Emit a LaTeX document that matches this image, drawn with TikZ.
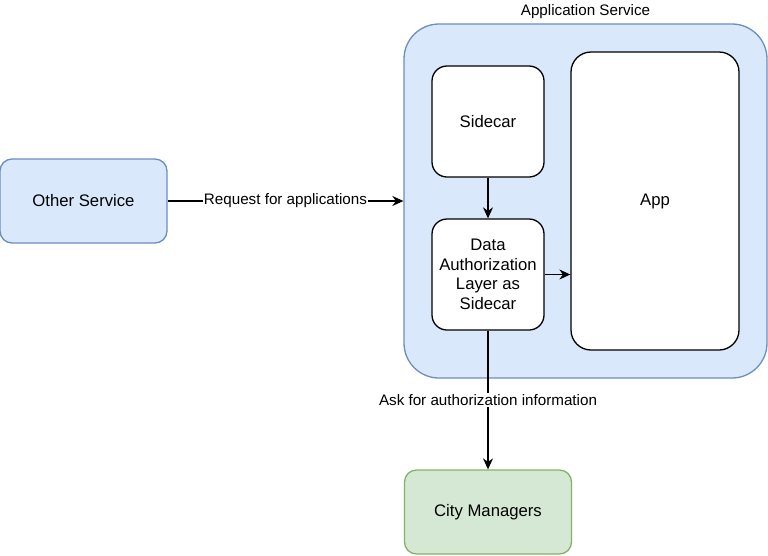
\documentclass[tikz,border=0pt]{standalone}
\usepackage{fontspec}
\setmainfont{Liberation Sans}
\usetikzlibrary{arrows.meta, positioning}

\definecolor{bluefill}{HTML}{DAE8FC}
\definecolor{blueline}{HTML}{6C8EBF}
\definecolor{greenfill}{HTML}{D5E8D4}
\definecolor{greenline}{HTML}{82B366}

\begin{document}
\begin{tikzpicture}[
    x=1pt, y=-1pt,
    every node/.style={align=center, inner sep=0pt, font=\fontsize{16.7}{19.5}\selectfont},
    box/.style={draw, line width=1.3pt, fill=white, rounded corners=15pt},
    bluebox/.style={box, draw=blueline, fill=bluefill, rounded corners=12pt},
    greenbox/.style={box, draw=greenline, fill=greenfill, rounded corners=12pt},
    lbl/.style={fill=white, inner sep=1pt, font=\fontsize{15.2}{18}\selectfont},
    arrow/.style={-{Stealth[length=11pt, width=10pt]}, line width=1.3pt}
]
\useasboundingbox (0,0) rectangle (768,555);

% Nodes
\node (other) [bluebox, minimum width=167pt, minimum height=84pt] at (83.5,201) {Other Service};
\node (appsvc) [bluebox, rounded corners=35pt, minimum width=363pt, minimum height=354pt,
  label={[lbl, fill=none, inner sep=4pt]above:Application Service}] at (585.5,201) {};
\node (sidecar) [box, minimum width=112pt, minimum height=111pt] at (488,121.5) {Sidecar};
\node (dal) [box, minimum width=112pt, minimum height=111pt] at (488,274.5)
  {Data\\Authorization\\Layer as\\Sidecar};
\node (app) [box, rounded corners=20pt, minimum width=168pt, minimum height=298pt] at (655,201) {App};
\node (city) [greenbox, minimum width=167pt, minimum height=84pt] at (488,512) {City Managers};

% Arrows
\draw[arrow] (other) -- node[lbl] {Request for applications} (appsvc.west);
\draw[arrow] (sidecar) -- (dal);
\draw[arrow] (dal.east) -- (dal.east -| app.west);
\draw[arrow] (dal) -- node[lbl] {Ask for authorization information} (city);

\end{tikzpicture}
\end{document}
